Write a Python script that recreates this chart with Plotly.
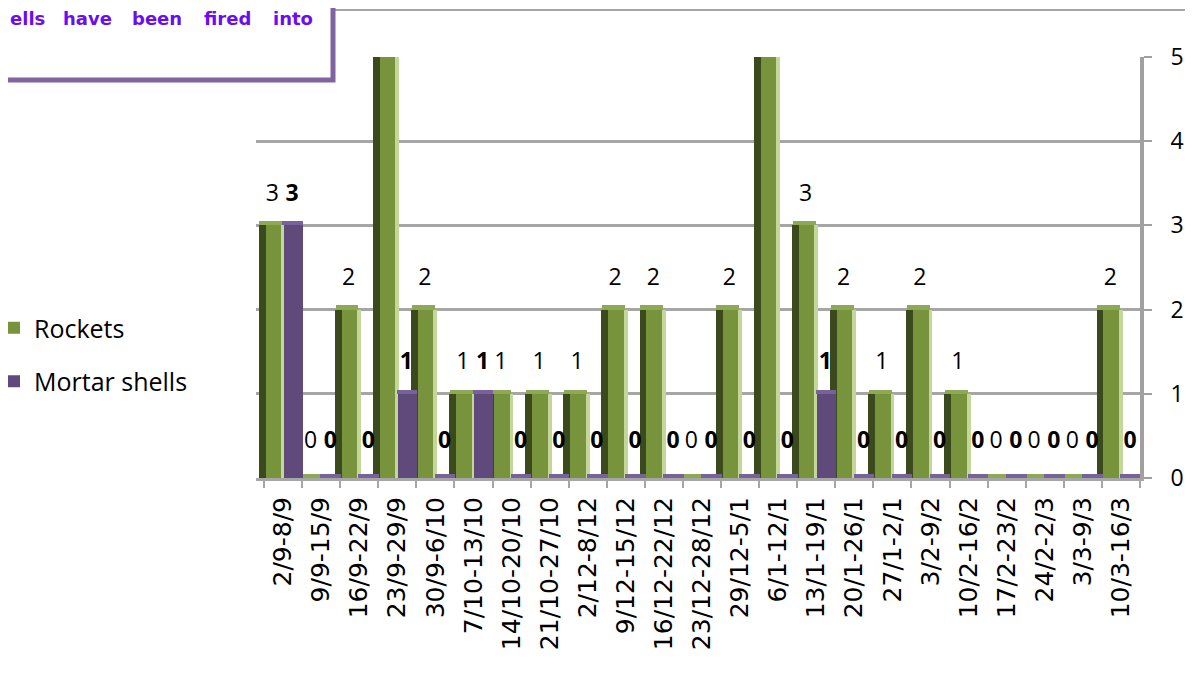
import plotly.graph_objects as go

categories = ["2/9-8/9", "9/9-15/9", "16/9-22/9", "23/9-29/9", "30/9-6/10",
              "7/10-13/10", "14/10-20/10", "21/10-27/10", "2/12-8/12", "9/12-15/12",
              "16/12-22/12", "23/12-28/12", "29/12-5/1", "6/1-12/1", "13/1-19/1",
              "20/1-26/1", "27/1-2/1", "3/2-9/2", "10/2-16/2", "17/2-23/2",
              "24/2-2/3", "3/3-9/3", "10/3-16/3"]
rockets = [3, 0, 2, 6, 2, 1, 1, 1, 1, 2, 2, 0, 2, 7, 3, 2, 1, 2, 1, 0, 0, 0, 2]
mortar = [3, 0, 0, 1, 0, 1, 0, 0, 0, 0, 0, 0, 0, 0, 1, 0, 0, 0, 0, 0, 0, 0, 0]
box_words = ["ells", "have", "been", "fired", "into"]

# the page has the default 8px body margin; keep the figure small enough to avoid scrollbars
OFF = 8
W, H = 1193 - 2 * OFF, 675 - 2 * OFF
ML, MT = 256 - OFF, 57 - OFF
MR = W - (1140 - OFF)
MB = H - (478 - OFF)
PW, PH = W - ML - MR, H - MT - MB
YMAX = 5

def px_x(px):  # page pixel -> paper
    return (px - OFF - ML) / PW

def px_y(py):
    return 1 - (py - OFF - MT) / PH

xs = list(range(len(categories)))
GREEN, GREEN_DARK, GREEN_LIGHT, GREEN_TOP = "#77933C", "#3A4A1C", "#C4D79B", "#8DA955"
PURPLE, PURPLE_TOP = "#604A7B", "#77629A"

fig = go.Figure()

def bar(y, base, offset, width, color, name=None, show=False, group=None):
    fig.add_trace(go.Bar(x=xs, y=y, base=base, offset=offset, width=width,
                         marker=dict(color=color, line=dict(width=0)),
                         name=name, showlegend=show, legendgroup=group,
                         hoverinfo="skip"))

clip_r = [min(v, YMAX) for v in rockets]
clip_m = [min(v, YMAX) for v in mortar]

# Rockets: side face, front face, light edge, top face
bar(rockets, None, -0.64, 0.19, GREEN_DARK)
bar(rockets, None, -0.46, 0.42, GREEN, "Rockets", True, "r")
bar(rockets, None, -0.05, 0.10, GREEN_LIGHT)
bar([0.05] * len(xs), clip_r, -0.62, 0.60, GREEN_TOP)
# Mortar shells: front face, top face
bar(mortar, None, 0.02, 0.50, PURPLE, "Mortar shells", True, "m")
bar([0.05] * len(xs), clip_m, -0.02, 0.54, PURPLE_TOP)

def label_y(v):
    if v == 0:
        return 0.42
    if v > YMAX:
        return YMAX + 0.29
    return v + 0.36

fig.add_trace(go.Scatter(x=[i - 0.28 for i in xs], y=[label_y(v) for v in rockets],
                         mode="text", text=[str(v) for v in rockets],
                         textfont=dict(family="Open Sans", size=23, color="black"),
                         showlegend=False, cliponaxis=False, hoverinfo="skip"))
fig.add_trace(go.Scatter(x=[i + 0.24 for i in xs], y=[label_y(v) for v in mortar],
                         mode="text", text=[str(v) for v in mortar],
                         textfont=dict(family="Open Sans", size=23, color="black", weight="bold"),
                         showlegend=False, cliponaxis=False, hoverinfo="skip"))

shapes = [
    dict(type="line", xref="paper", yref="paper", x0=px_x(0), x1=px_x(1200), y0=px_y(10), y1=px_y(10),
         line=dict(color="#A6A6A6", width=2), layer="above"),
    dict(type="rect", xref="paper", yref="paper", x0=px_x(-20), x1=px_x(333), y0=px_y(80), y1=px_y(-20),
         line=dict(color="#8064A2", width=5), fillcolor="white", layer="above"),
]

word_x = [9, 62, 131, 203, 272]
annotations = [dict(text=w, xref="paper", yref="paper", x=px_x(x0), y=px_y(19),
                    xanchor="left", yanchor="middle", showarrow=False, borderpad=0,
                    font=dict(family="DejaVu Sans", size=18, color="#6A0DF5", weight="bold"))
               for w, x0 in zip(box_words, word_x)]

fig.update_layout(
    width=W, height=H, autosize=False,
    margin=dict(l=ML, r=MR, t=MT, b=MB, pad=0, autoexpand=False),
    paper_bgcolor="white", plot_bgcolor="white",
    barmode="overlay", bargap=0,
    shapes=shapes, annotations=annotations,
    legend=dict(xref="paper", yref="paper", x=px_x(-6), y=px_y(305),
                xanchor="left", yanchor="top", font=dict(family="Open Sans", size=25, color="black"),
                tracegroupgap=18, bgcolor="rgba(0,0,0,0)"),
    xaxis=dict(range=[-0.71, len(xs) - 0.5], tickmode="array", tickvals=xs, ticktext=categories,
               tickangle=-90, tickfont=dict(family="DejaVu Sans", size=25, color="black"),
               ticks="", showgrid=False, zeroline=False, showline=True,
               linecolor="#A6A6A6", linewidth=3, ticklabelstandoff=6,
               minor=dict(tickmode="linear", tick0=-0.5, dtick=1, ticks="outside",
                          ticklen=7, tickwidth=2, tickcolor="#A6A6A6", showgrid=False)),
    yaxis=dict(range=[0, YMAX], dtick=1, side="right", showgrid=True, gridcolor="#A6A6A6",
               gridwidth=3, zeroline=False, showline=True, linecolor="#A0A0A0", linewidth=4,
               ticks="outside", ticklen=8, tickwidth=2, tickcolor="#A0A0A0",
               tickfont=dict(family="Open Sans", size=23, color="black"), ticklabelstandoff=14),
)

fig.write_html("out.html")
